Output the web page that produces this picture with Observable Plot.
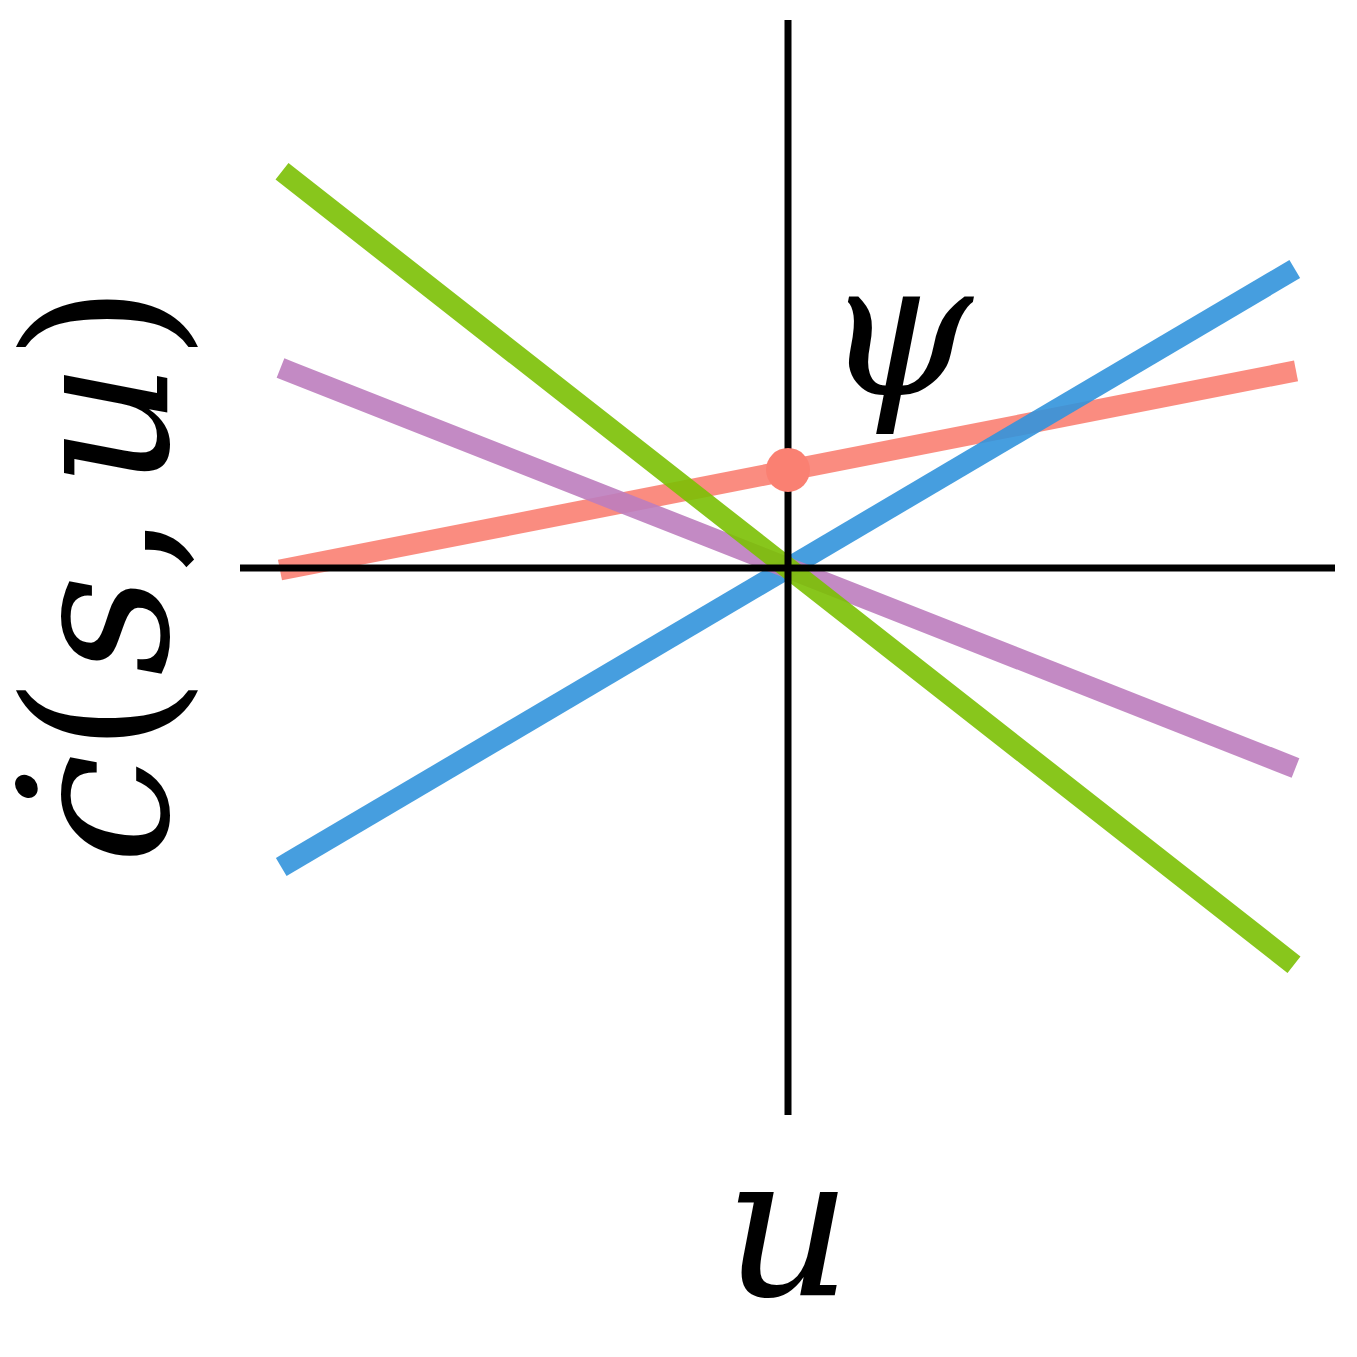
<!DOCTYPE html>
<html>
<head>
<meta charset="utf-8">
<script src="https://cdn.jsdelivr.net/npm/d3@7"></script>
<script src="https://cdn.jsdelivr.net/npm/@observablehq/plot@0.6"></script>
<style>
  html, body { margin: 0; padding: 0; background: #fff; }
  #chart svg { display: block; }
</style>
</head>
<body>
<div id="chart"></div>
<script>
// Data
const u = [-1, 1];
const seriesNames = ["salmon", "blue", "purple", "green"];
const salmonY = [0.0, 0.392];
const blueY = [-0.59, 0.59];
const purpleY = [0.394, -0.394];
const greenY = [0.784, -0.784];
const psiPoint = { u: 0, y: 0.197 };
const seriesColors = ["#fa8072", "#3294dc", "#bc7dbe", "#7bc003"];
const axisExtent = [-1.1, 1.1];
const xLabel = "u";
const psiLabel = "ψ";

const seriesY = { salmon: salmonY, blue: blueY, purple: purpleY, green: greenY };
const rows = seriesNames.flatMap(name => u.map((x, i) => ({ series: name, u: x, y: seriesY[name][i] })));

const lineMarks = seriesNames.map((name, k) =>
  Plot.line(rows.filter(d => d.series === name), {
    x: "u", y: "y", stroke: seriesColors[k], strokeWidth: 21,
    strokeOpacity: 0.9, strokeLinecap: "square"
  })
);

const plot = Plot.plot({
  width: 1357,
  height: 1357,
  marginLeft: 240,
  marginRight: 22,
  marginTop: 20,
  marginBottom: 242,
  x: { domain: axisExtent, axis: null },
  y: { domain: axisExtent, axis: null },
  style: { background: "#fff", overflow: "visible" },
  marks: [
    ...lineMarks,
    Plot.ruleX([0], { y1: axisExtent[0], y2: axisExtent[1], stroke: "black", strokeWidth: 7 }),
    Plot.ruleY([0], { x1: axisExtent[0], x2: axisExtent[1], stroke: "black", strokeWidth: 7 }),
    Plot.dot([psiPoint], { x: "u", y: "y", r: 22, fill: "#fa8072", stroke: "none" }),
    Plot.text([psiLabel], { x: 0.221, y: 0.348, text: d => d, fontSize: 190, fontStyle: "italic",
      fontFamily: "DejaVu Serif", fill: "black", textAnchor: "middle", lineAnchor: "bottom" }),
    Plot.text([xLabel], { x: 0, y: -1.461, text: d => d, fontSize: 198, fontStyle: "italic",
      fontFamily: "DejaVu Serif", fill: "black", textAnchor: "middle", lineAnchor: "bottom" })
  ]
});

document.getElementById("chart").appendChild(plot);

// y-axis label with mixed italic/upright glyphs
const svg = d3.select(plot);
const yl = svg.append("text")
  .attr("transform", "translate(167,574) rotate(-90)")
  .attr("text-anchor", "middle")
  .attr("font-family", "DejaVu Serif")
  .attr("font-size", 198)
  .attr("fill", "black");
const parts = [["ċ", true, 0], ["(", false, 0], ["s", true, 0], [",", false, 0], [" ", false, -40], ["u", true, 0], [")", false, 0]];
parts.forEach(([t, it, dx]) => yl.append("tspan")
  .attr("font-style", it ? "italic" : "normal")
  .attr("dx", dx)
  .attr("xml:space", "preserve")
  .text(t));
</script>
</body>
</html>
